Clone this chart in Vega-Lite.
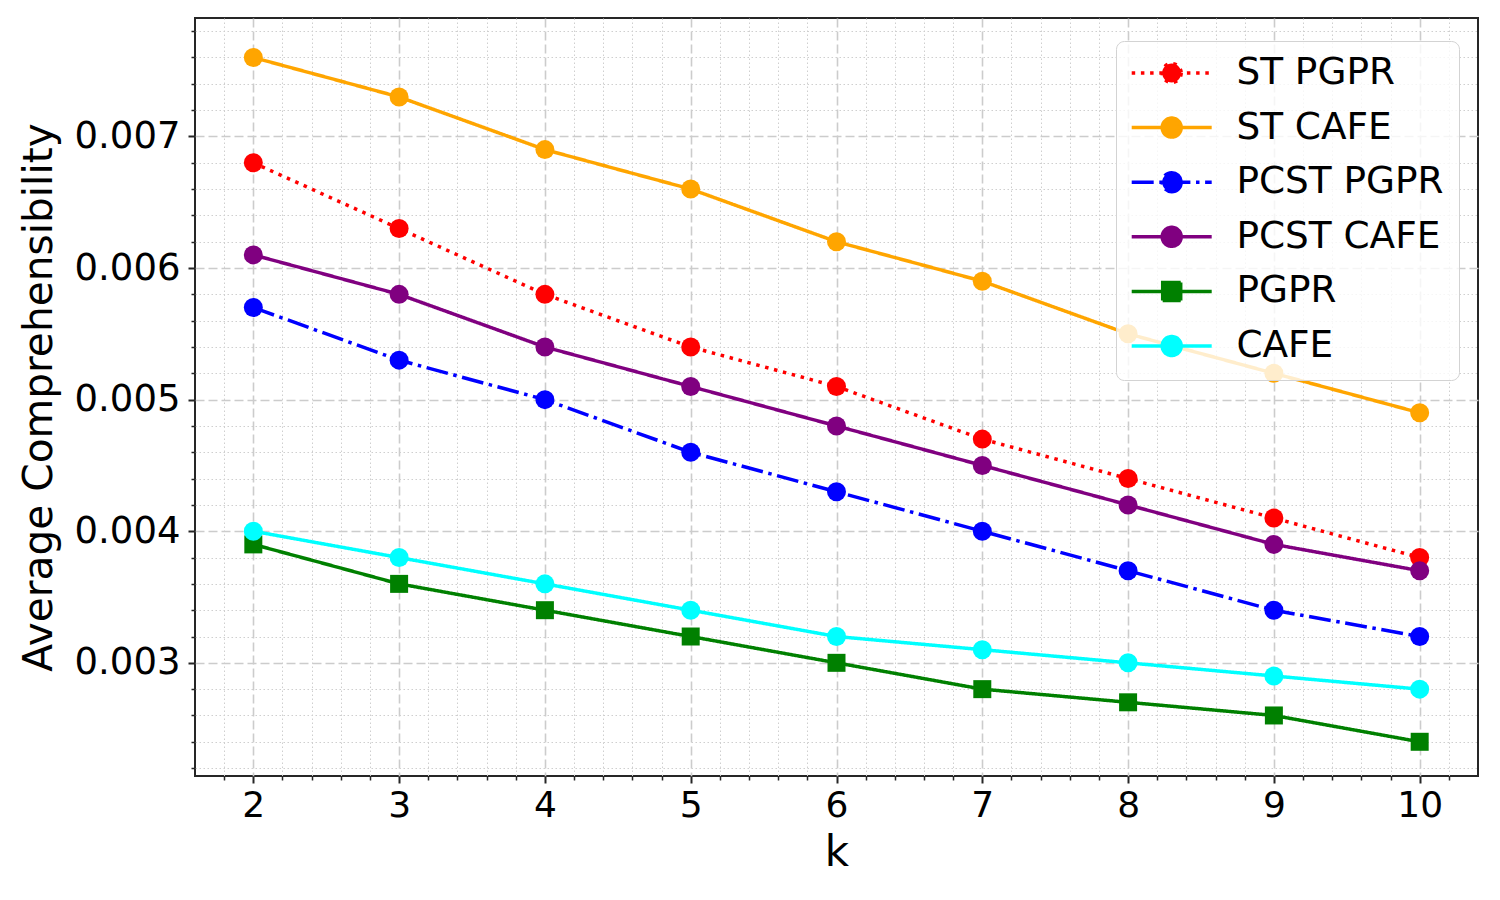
{
  "$schema": "https://vega.github.io/schema/vega-lite/v6.json",
  "width": 1283,
  "height": 758,
  "autosize": {"type": "none"},
  "padding": {"left": 195, "top": 18, "right": 22, "bottom": 124},
  "background": "white",
  "config": {
    "view": {"stroke": "#262626", "strokeWidth": 2},
    "font": "DejaVu Sans",
    "axis": {
      "domain": false,
      "labelFont": "DejaVu Sans",
      "titleFont": "DejaVu Sans",
      "labelColor": "black",
      "titleColor": "black",
      "tickColor": "#262626",
      "titleFontWeight": "normal"
    },
    "legend": {
      "orient": "none",
      "legendX": 921,
      "legendY": 23,
      "labelFont": "DejaVu Sans",
      "labelFontSize": 37.4,
      "labelColor": "black",
      "labelLimit": 600,
      "symbolSize": 400,
      "labelOffset": 68,
      "padding": 15,
      "rowPadding": 16.6,
      "clipHeight": 34,
      "fillColor": "rgba(255,255,255,0.8)",
      "strokeColor": "#d3d3d3",
      "cornerRadius": 8,
      "symbolStrokeWidth": 3.5
    }
  },
  "data": {
    "values": [
      {"series": "ST PGPR", "k": 2, "v": 0.0068},
      {"series": "ST PGPR", "k": 3, "v": 0.0063},
      {"series": "ST PGPR", "k": 4, "v": 0.0058},
      {"series": "ST PGPR", "k": 5, "v": 0.0054},
      {"series": "ST PGPR", "k": 6, "v": 0.0051},
      {"series": "ST PGPR", "k": 7, "v": 0.0047},
      {"series": "ST PGPR", "k": 8, "v": 0.0044},
      {"series": "ST PGPR", "k": 9, "v": 0.0041},
      {"series": "ST PGPR", "k": 10, "v": 0.0038},
      {"series": "ST CAFE", "k": 2, "v": 0.0076},
      {"series": "ST CAFE", "k": 3, "v": 0.0073},
      {"series": "ST CAFE", "k": 4, "v": 0.0069},
      {"series": "ST CAFE", "k": 5, "v": 0.0066},
      {"series": "ST CAFE", "k": 6, "v": 0.0062},
      {"series": "ST CAFE", "k": 7, "v": 0.0059},
      {"series": "ST CAFE", "k": 8, "v": 0.0055},
      {"series": "ST CAFE", "k": 9, "v": 0.0052},
      {"series": "ST CAFE", "k": 10, "v": 0.0049},
      {"series": "PCST PGPR", "k": 2, "v": 0.0057},
      {"series": "PCST PGPR", "k": 3, "v": 0.0053},
      {"series": "PCST PGPR", "k": 4, "v": 0.0050},
      {"series": "PCST PGPR", "k": 5, "v": 0.0046},
      {"series": "PCST PGPR", "k": 6, "v": 0.0043},
      {"series": "PCST PGPR", "k": 7, "v": 0.0040},
      {"series": "PCST PGPR", "k": 8, "v": 0.0037},
      {"series": "PCST PGPR", "k": 9, "v": 0.0034},
      {"series": "PCST PGPR", "k": 10, "v": 0.0032},
      {"series": "PCST CAFE", "k": 2, "v": 0.0061},
      {"series": "PCST CAFE", "k": 3, "v": 0.0058},
      {"series": "PCST CAFE", "k": 4, "v": 0.0054},
      {"series": "PCST CAFE", "k": 5, "v": 0.0051},
      {"series": "PCST CAFE", "k": 6, "v": 0.0048},
      {"series": "PCST CAFE", "k": 7, "v": 0.0045},
      {"series": "PCST CAFE", "k": 8, "v": 0.0042},
      {"series": "PCST CAFE", "k": 9, "v": 0.0039},
      {"series": "PCST CAFE", "k": 10, "v": 0.0037},
      {"series": "PGPR", "k": 2, "v": 0.0039},
      {"series": "PGPR", "k": 3, "v": 0.0036},
      {"series": "PGPR", "k": 4, "v": 0.0034},
      {"series": "PGPR", "k": 5, "v": 0.0032},
      {"series": "PGPR", "k": 6, "v": 0.0030},
      {"series": "PGPR", "k": 7, "v": 0.0028},
      {"series": "PGPR", "k": 8, "v": 0.0027},
      {"series": "PGPR", "k": 9, "v": 0.0026},
      {"series": "PGPR", "k": 10, "v": 0.0024},
      {"series": "CAFE", "k": 2, "v": 0.0040},
      {"series": "CAFE", "k": 3, "v": 0.0038},
      {"series": "CAFE", "k": 4, "v": 0.0036},
      {"series": "CAFE", "k": 5, "v": 0.0034},
      {"series": "CAFE", "k": 6, "v": 0.0032},
      {"series": "CAFE", "k": 7, "v": 0.0031},
      {"series": "CAFE", "k": 8, "v": 0.0030},
      {"series": "CAFE", "k": 9, "v": 0.0029},
      {"series": "CAFE", "k": 10, "v": 0.0028}
    ]
  },
  "resolve": {"axis": {"x": "independent", "y": "independent"}},
  "layer": [
    {
      "mark": {"type": "line", "strokeWidth": 3.5},
      "encoding": {
        "x": {
          "field": "k", "type": "quantitative",
          "scale": {"domain": [1.6, 10.4], "nice": false, "zero": false},
          "axis": {
            "orient": "bottom", "title": null, "labels": false,
            "values": [1.8, 2.2, 2.4, 2.6, 2.8, 3.2, 3.4, 3.6, 3.8, 4.2, 4.4, 4.6, 4.8, 5.2, 5.4, 5.6, 5.8, 6.2, 6.4, 6.6, 6.8, 7.2, 7.4, 7.6, 7.8, 8.2, 8.4, 8.6, 8.8, 9.2, 9.4, 9.6, 9.8, 10.2],
            "tickSize": 4, "tickWidth": 1.5,
            "grid": true, "gridDash": [1.5, 2.5], "gridColor": "#cfcfcf", "gridWidth": 1
          }
        },
        "y": {
          "field": "v", "type": "quantitative",
          "scale": {"domain": [0.00214, 0.0079], "nice": false, "zero": false},
          "axis": {
            "orient": "left", "title": null, "labels": false,
            "values": [0.0022, 0.0024, 0.0026, 0.0028, 0.0032, 0.0034, 0.0036, 0.0038, 0.0042, 0.0044, 0.0046, 0.0048, 0.0052, 0.0054, 0.0056, 0.0058, 0.0062, 0.0064, 0.0066, 0.0068, 0.0072, 0.0074, 0.0076, 0.0078],
            "tickSize": 4, "tickWidth": 1.5,
            "grid": true, "gridDash": [1.5, 2.5], "gridColor": "#cfcfcf", "gridWidth": 1
          }
        },
        "color": {
          "field": "series", "type": "nominal",
          "scale": {
            "domain": ["ST PGPR", "ST CAFE", "PCST PGPR", "PCST CAFE", "PGPR", "CAFE"],
            "range": ["#ff0000", "#ffa500", "#0000ff", "#800080", "#008000", "#00ffff"]
          },
          "legend": {
            "title": null,
            "encode": {
              "symbols": {
                "update": {
                  "shape": {"signal": "datum.value === 'PGPR' ? 'M-1.8,0H6.2M1.3,-0.9H3.1V0.9H1.3Z' : 'M-1.8,0H6.2M3.15,0A0.95,0.95,0,1,1,1.25,0A0.95,0.95,0,1,1,3.15,0Z'"},
                  "fill": {"scale": "color", "field": "value"},
                  "stroke": {"scale": "color", "field": "value"},
                  "strokeWidth": {"value": 3.5},
                  "opacity": {"value": 1},
                  "size": {"value": 400}
                }
              }
            }
          }
        },
        "strokeDash": {
          "field": "series", "type": "nominal",
          "scale": {
            "domain": ["ST PGPR", "ST CAFE", "PCST PGPR", "PCST CAFE", "PGPR", "CAFE"],
            "range": [[3.5, 5.7], [1, 0], [22, 5.6, 3.5, 5.6], [1, 0], [1, 0], [1, 0]]
          },
          "legend": null
        }
      }
    },
    {
      "mark": {"type": "point", "filled": true, "opacity": 1},
      "encoding": {
        "x": {
          "field": "k", "type": "quantitative",
          "axis": {
            "orient": "bottom", "title": "k", "values": [2, 3, 4, 5, 6, 7, 8, 9, 10], "format": "d",
            "labelFontSize": 36, "titleFontSize": 42, "labelPadding": 5, "titlePadding": 9,
            "tickSize": 7, "tickWidth": 2,
            "grid": true, "gridDash": [9, 4], "gridColor": "#cccccc", "gridWidth": 1.6
          }
        },
        "y": {
          "field": "v", "type": "quantitative",
          "axis": {
            "orient": "left", "title": "Average Comprehensibility", "values": [0.003, 0.004, 0.005, 0.006, 0.007], "format": ".3f",
            "labelFontSize": 37, "titleFontSize": 40.7, "labelPadding": 8, "titlePadding": 14,
            "tickSize": 7, "tickWidth": 2,
            "grid": true, "gridDash": [9, 4], "gridColor": "#cccccc", "gridWidth": 1.6
          }
        },
        "color": {
          "field": "series", "type": "nominal",
          "legend": {
            "title": null,
            "encode": {
              "symbols": {
                "update": {
                  "shape": {"signal": "datum.value === 'PGPR' ? 'M-1.8,0H6.2M1.3,-0.9H3.1V0.9H1.3Z' : 'M-1.8,0H6.2M3.15,0A0.95,0.95,0,1,1,1.25,0A0.95,0.95,0,1,1,3.15,0Z'"},
                  "fill": {"scale": "color", "field": "value"},
                  "stroke": {"scale": "color", "field": "value"},
                  "strokeWidth": {"value": 3.5},
                  "opacity": {"value": 1},
                  "size": {"value": 400}
                }
              }
            }
          }
        },
        "shape": {"condition": {"test": "datum.series === 'PGPR'", "value": "square"}, "value": "circle"},
        "size": {"condition": {"test": "datum.series === 'PGPR'", "value": 324}, "value": 361}
      }
    }
  ]
}
